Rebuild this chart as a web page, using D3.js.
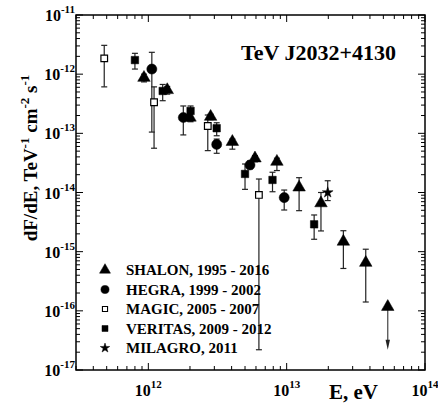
<!DOCTYPE html>
<html><head><meta charset="utf-8">
<script src="https://cdn.jsdelivr.net/npm/d3@7"></script>
<style>
html,body{margin:0;padding:0;background:#fff;}
text{font-family:"Liberation Serif","Times New Roman",serif;font-weight:bold;fill:#000;}
</style></head>
<body><svg id="c" width="438" height="405"></svg>
<script>
// Data: [E (eV), dF/dE, lower, upper]
const shalon = [
  [9.3e11, 8.7e-13, 7.4e-13, 1.0e-12],
  [1.37e12, 5.4e-13, 4.6e-13, 6.2e-13],
  [2.0e12, 1.85e-13, 1.6e-13, 2.1e-13],
  [2.82e12, 1.91e-13, 1.7e-13, 2.1e-13],
  [4.05e12, 7.2e-14, 5.4e-14, 8.0e-14],
  [5.9e12, 3.78e-14, 3.3e-14, 4.2e-14],
  [8.5e12, 3.32e-14, 2.35e-14, 3.8e-14],
  [1.23e13, 1.22e-14, 4.93e-15, 1.78e-14],
  [1.77e13, 6.6e-15, 2.24e-15, 1.0e-14],
  [2.57e13, 1.48e-15, 5.2e-16, 2.26e-15],
  [3.73e13, 6.5e-16, 1.41e-16, 1.1e-15]
];
const shalonLimit = [[5.38e13, 1.17e-16, 2.2e-17]];
const hegra = [
  [1.06e12, 1.22e-12, 1.05e-13, 2.34e-12],
  [1.79e12, 1.85e-13, 9.4e-14, 2.9e-13],
  [3.12e12, 6.5e-14, 4.6e-14, 8.0e-14],
  [5.43e12, 2.92e-14, 2.5e-14, 3.4e-14],
  [9.6e12, 8.2e-15, 5.06e-15, 1.1e-14]
];
const magic = [
  [4.8e11, 1.85e-12, 6.1e-13, 3.07e-12],
  [1.10e12, 3.35e-13, 5.6e-14, 6.1e-13],
  [2.69e12, 1.33e-13, 5.1e-14, 2.04e-13],
  [6.3e12, 9.1e-15, 2.2e-17, 1.69e-14]
];
const veritas = [
  [8.0e11, 1.73e-12, 1.22e-12, 2.25e-12],
  [1.27e12, 5.2e-13, 3.56e-13, 6.7e-13],
  [2.02e12, 2.39e-13, 1.57e-13, 2.9e-13],
  [3.12e12, 1.22e-13, 9.1e-14, 1.51e-13],
  [5.0e12, 2.06e-14, 1.13e-14, 3.03e-14],
  [7.9e12, 1.63e-14, 1.03e-14, 2.2e-14],
  [1.58e13, 2.9e-15, 1.62e-15, 4.17e-15]
];
const milagro = [
  [1.98e13, 1.0e-14, 7.3e-15, 1.58e-14]
];
const legendLabels = ["SHALON, 1995 - 2016","HEGRA, 1999 - 2002","MAGIC, 2005 - 2007","VERITAS, 2009 - 2012","MILAGRO, 2011"];
const xDecades = [12, 13, 14];
const yDecades = [-11, -12, -13, -14, -15, -16, -17];
const titleText = "TeV J2032+4130";

const svg = d3.select("#c");
const L = 76, R = 425, T = 15, B = 370;
const x = d3.scaleLog().domain([3e11, 1e14]).range([L, R]);
const y = d3.scaleLog().domain([1e-17, 1e-11]).range([B, T]);

// ticks on all four sides (inward)
const g = svg.append("g").attr("stroke", "#000").attr("stroke-width", 1);
function minorVals(lo, hi) {
  const out = [];
  for (let e = Math.floor(Math.log10(lo)); e <= Math.ceil(Math.log10(hi)); e++)
    for (let m = 1; m <= 9; m++) { const v = m * Math.pow(10, e); if (v >= lo * 0.999 && v <= hi * 1.001) out.push({v, major: m === 1}); }
  return out;
}
minorVals(3e11, 1e14).forEach(t => {
  const px = x(t.v), len = t.major ? 7 : 4;
  g.append("line").attr("x1", px).attr("x2", px).attr("y1", B).attr("y2", B - len);
  g.append("line").attr("x1", px).attr("x2", px).attr("y1", T).attr("y2", T + len);
});
minorVals(1e-17, 1e-11).forEach(t => {
  const py = y(t.v), len = t.major ? 7 : 4;
  g.append("line").attr("x1", L).attr("x2", L + len).attr("y1", py).attr("y2", py);
  g.append("line").attr("x1", R).attr("x2", R - len).attr("y1", py).attr("y2", py);
});
svg.append("rect").attr("x", L).attr("y", T).attr("width", R - L).attr("height", B - T)
  .attr("fill", "none").attr("stroke", "#000").attr("stroke-width", 1.5);

// tick labels
yDecades.forEach(d => {
  const t = svg.append("text").attr("x", 75).attr("y", y(Math.pow(10, d)) + 6)
    .attr("text-anchor", "end").style("font-size", "16px");
  t.append("tspan").text("10");
  t.append("tspan").attr("dy", -8).style("font-size", "11px").text(String(d));
});
xDecades.forEach(d => {
  const t = svg.append("text").attr("x", x(Math.pow(10, d))).attr("y", 396)
    .attr("text-anchor", "middle").style("font-size", "16px");
  t.append("tspan").text("10");
  t.append("tspan").attr("dy", -8).style("font-size", "11px").text(String(d));
});

// axis titles
svg.append("text").attr("x", 329).attr("y", 399).style("font-size", "21px").text("E, eV");
const yl = svg.append("text").attr("transform", "translate(37,158) rotate(-90)")
  .attr("text-anchor", "middle").style("font-size", "19px");
yl.append("tspan").text("dF/dE, TeV");
yl.append("tspan").attr("dy", -8).style("font-size", "13px").text("-1");
yl.append("tspan").attr("dy", 8).text(" cm");
yl.append("tspan").attr("dy", -8).style("font-size", "13px").text("-2");
yl.append("tspan").attr("dy", 8).text(" s");
yl.append("tspan").attr("dy", -8).style("font-size", "13px").text("-1");

svg.append("text").attr("x", 241).attr("y", 60).style("font-size", "22px").text(titleText);

// error bars
const eb = svg.append("g").attr("stroke", "#222").attr("stroke-width", 1.2);
const all = [].concat(shalon, hegra, magic, veritas, milagro);
all.forEach(d => {
  const px = x(d[0]);
  eb.append("line").attr("x1", px).attr("x2", px).attr("y1", y(d[2])).attr("y2", y(d[3]));
  [d[2], d[3]].forEach(v => eb.append("line").attr("x1", px - 3).attr("x2", px + 3).attr("y1", y(v)).attr("y2", y(v)));
});
// upper-limit arrow
shalonLimit.forEach(d => {
  const px = x(d[0]);
  eb.append("line").attr("x1", px).attr("x2", px).attr("y1", y(d[1])).attr("y2", y(d[2]) - 8).attr("stroke", "#444");
  svg.append("path").attr("d", `M${px - 2.2},${y(d[2]) - 10}L${px + 2.2},${y(d[2]) - 10}L${px},${y(d[2])}Z`).attr("fill", "#222");
});

// markers
const sym = (type, size) => d3.symbol().type(type).size(size)();
function plot(data, type, size, fill) {
  svg.append("g").selectAll("path").data(data).join("path")
    .attr("transform", d => `translate(${x(d[0])},${y(d[1])})`)
    .attr("d", sym(type, size))
    .attr("fill", fill ? "#000" : "#fff")
    .attr("stroke", "#000").attr("stroke-width", fill ? 0.5 : 1.2);
}
plot(magic, d3.symbolSquare, 44, false);
plot(veritas, d3.symbolSquare, 56, true);
plot(hegra, d3.symbolCircle, 80, true);
plot(shalon.concat(shalonLimit), d3.symbolTriangle, 68, true);
plot(milagro, d3.symbolStar, 36, true);

// legend
const legTypes = [[d3.symbolTriangle, 52, true], [d3.symbolCircle, 52, true], [d3.symbolSquare, 26, false], [d3.symbolSquare, 36, true], [d3.symbolStar, 28, true]];
const legY = [270, 289.5, 309, 328.5, 348];
legendLabels.forEach((lab, i) => {
  const [tp, sz, f] = legTypes[i];
  svg.append("path").attr("transform", `translate(105,${legY[i]})`).attr("d", sym(tp, sz))
    .attr("fill", f ? "#000" : "#fff").attr("stroke", "#000").attr("stroke-width", f ? 0.5 : 1.1);
  svg.append("text").attr("x", 126).attr("y", legY[i] + 5).style("font-size", "15px").text(lab);
});
</script></body></html>
